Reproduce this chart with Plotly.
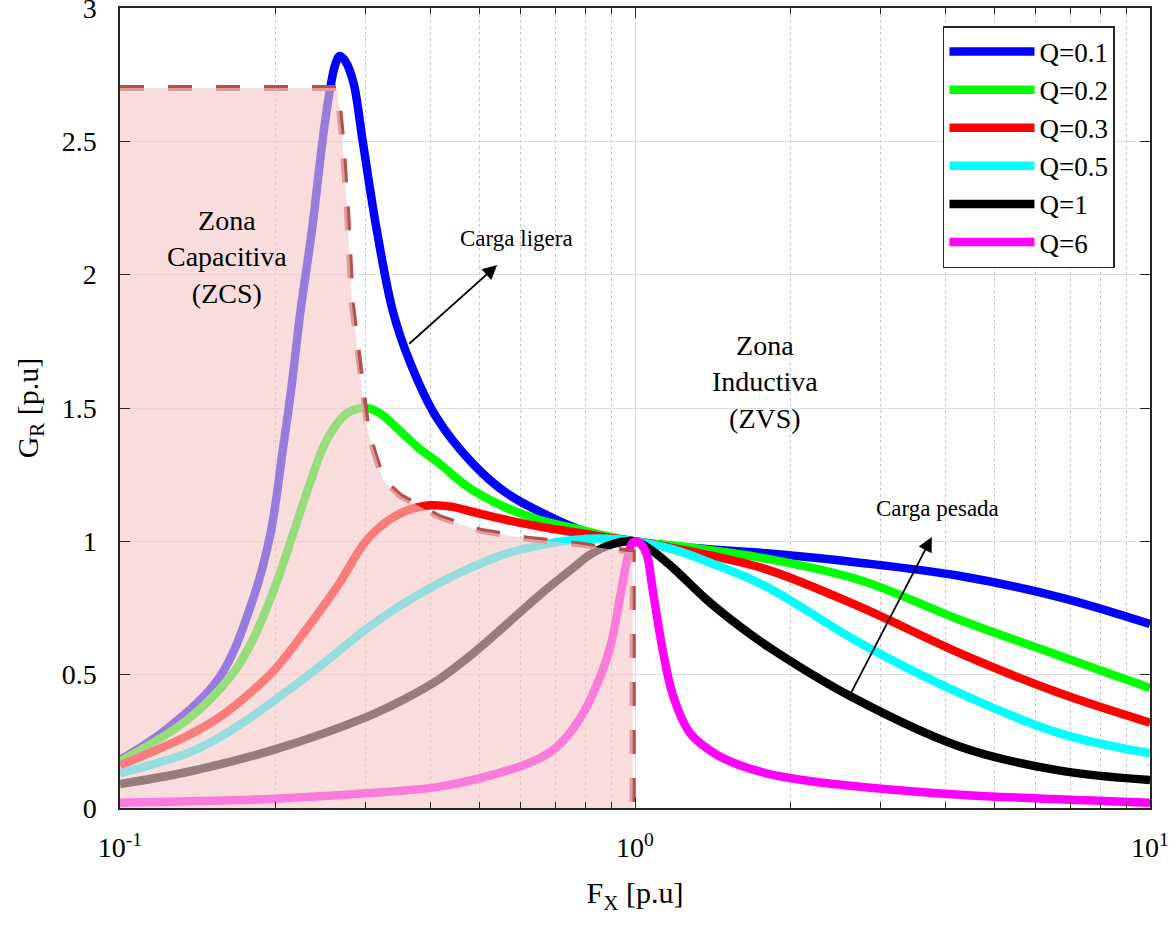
import math
import plotly.graph_objects as go

# ---------------- data ----------------
f_q01 = [0.1, 0.124, 0.156, 0.181, 0.196, 0.207, 0.215, 0.224, 0.236, 0.248, 0.256, 0.262,
         0.267, 0.274, 0.284, 0.296, 0.315, 0.339, 0.366, 0.41, 0.485, 0.564, 0.706, 0.822,
         1.0, 1.3, 1.8, 2.73, 4.28, 6.69, 10.0]
g_q01 = [0.18, 0.30, 0.49, 0.78, 1.03, 1.34, 1.57, 1.86, 2.17, 2.52, 2.70, 2.79,
         2.82, 2.80, 2.72, 2.50, 2.17, 1.86, 1.67, 1.47, 1.29, 1.18, 1.08, 1.03,
         1.0, 0.975, 0.955, 0.92, 0.87, 0.79, 0.69]

f_q02 = [0.1, 0.135, 0.165, 0.181, 0.2, 0.217, 0.234, 0.252, 0.276, 0.3, 0.32, 0.347, 0.38,
         0.418, 0.473, 0.564, 0.654, 0.758, 0.882, 1.0, 1.3, 1.8, 2.73, 4.28, 6.69, 10.0]
g_q02 = [0.175, 0.33, 0.50, 0.63, 0.83, 1.03, 1.22, 1.38, 1.48, 1.50, 1.48, 1.42, 1.35,
         1.29, 1.205, 1.125, 1.08, 1.05, 1.02, 1.0, 0.975, 0.935, 0.855, 0.705, 0.57, 0.45]

f_q03 = [0.1, 0.135, 0.156, 0.181, 0.2, 0.227, 0.264, 0.3, 0.33, 0.36, 0.4, 0.44,
         0.485, 0.564, 0.654, 0.758, 0.882, 1.0, 1.3, 1.8, 2.73, 4.28, 6.69, 10.0]
g_q03 = [0.16, 0.27, 0.34, 0.44, 0.52, 0.655, 0.83, 1.0, 1.075, 1.115, 1.135, 1.13,
         1.11, 1.08, 1.055, 1.035, 1.015, 1.0, 0.96, 0.895, 0.755, 0.58, 0.43, 0.32]

f_q05 = [0.1, 0.135, 0.156, 0.181, 0.2, 0.244, 0.3, 0.354, 0.418, 0.485, 0.564, 0.654,
         0.758, 0.882, 1.0, 1.186, 1.4, 1.8, 2.73, 4.28, 6.69, 10.0]
g_q05 = [0.13, 0.205, 0.265, 0.345, 0.405, 0.53, 0.67, 0.765, 0.845, 0.905, 0.955, 0.985,
         1.005, 1.01, 1.0, 0.97, 0.92, 0.83, 0.62, 0.43, 0.28, 0.205]

f_q1 = [0.1, 0.135, 0.2, 0.3, 0.354, 0.418, 0.485, 0.564, 0.654, 0.758, 0.818, 0.906, 1.0,
        1.08, 1.186, 1.38, 1.6, 1.83, 2.615, 4.28, 6.69, 10.0]
g_q1 = [0.09, 0.135, 0.22, 0.34, 0.405, 0.485, 0.58, 0.69, 0.80, 0.90, 0.95, 0.99, 1.0,
        0.965, 0.90, 0.78, 0.68, 0.60, 0.42, 0.23, 0.14, 0.105]

f_q6 = [0.1, 0.2, 0.3, 0.418, 0.564, 0.65, 0.706, 0.76, 0.818, 0.894, 0.935, 0.965, 0.985,
        1.0, 1.02, 1.054, 1.08, 1.13, 1.186, 1.28, 1.44, 1.6, 1.8, 2.2, 2.73, 4.28, 10.0]
g_q6 = [0.02, 0.035, 0.055, 0.08, 0.14, 0.185, 0.23, 0.30, 0.405, 0.60, 0.79, 0.93, 0.99,
        1.0, 0.995, 0.95, 0.83, 0.60, 0.42, 0.28, 0.20, 0.16, 0.13, 0.10, 0.08, 0.05, 0.02]

# boundary of the capacitive zone (dashed line)
f_bound = [0.1, 0.264, 0.270, 0.276, 0.282, 0.296, 0.303, 0.313, 0.324, 0.350, 0.418,
           0.500, 0.617, 0.771, 0.964, 0.99, 0.99]
g_bound = [2.70, 2.70, 2.51, 2.24, 1.89, 1.54, 1.41, 1.32, 1.23, 1.17, 1.09,
           1.04, 1.01, 0.99, 0.96, 0.96, 0.0]

series_names = ["Q=0.1", "Q=0.2", "Q=0.3", "Q=0.5", "Q=1", "Q=6"]
series_f = [f_q01, f_q02, f_q03, f_q05, f_q1, f_q6]
series_g = [g_q01, g_q02, g_q03, g_q05, g_q1, g_q6]
series_colors = ["#0000FF", "#00FF00", "#FF0000", "#00FFFF", "#000000", "#FF00FF"]

x_tickvals = [0.1, 1, 10]
x_ticktext = ["10<sup>-1</sup>", "10<sup>0</sup>", "10<sup>1</sup>"]
x_minor = [0.2, 0.3, 0.4, 0.5, 0.6, 0.7, 0.8, 0.9, 2, 3, 4, 5, 6, 7, 8, 9]
y_tickvals = [0, 0.5, 1, 1.5, 2, 2.5, 3]
y_ticktext = ["0", "0.5", "1", "1.5", "2", "2.5", "3"]

FONT = "Liberation Serif, Times New Roman, serif"
AX = "#262626"

fig = go.Figure()
for name, f, g, c in zip(series_names, series_f, series_g, series_colors):
    fig.add_trace(go.Scatter(x=f, y=g, mode="lines", name=name,
                             line=dict(color=c, width=8.5, shape="spline", smoothing=1.0)))

fig.add_trace(go.Scatter(x=f_bound, y=g_bound, mode="lines", showlegend=False,
                         hoverinfo="skip",
                         line=dict(color="#B5514D", width=6, dash="24px,24px")))

fig.add_trace(go.Scatter(x=f_bound + [0.1], y=g_bound + [0.0], mode="lines",
                         fill="toself", fillcolor="rgba(245,200,200,0.62)",
                         line=dict(width=0, color="rgba(0,0,0,0)"),
                         showlegend=False, hoverinfo="skip"))

L = math.log10
annotations = [
    dict(x=L(0.1613), y=2.066, xref="x", yref="y", showarrow=False,
         text="Zona<br>Capacitiva<br>(ZCS)", font=dict(family=FONT, size=28, color="black")),
    dict(x=L(1.788), y=1.597, xref="x", yref="y", showarrow=False,
         text="Zona<br>Inductiva<br>(ZVS)", font=dict(family=FONT, size=28, color="black")),
    dict(x=L(0.590), y=2.137, xref="x", yref="y", showarrow=False,
         text="Carga ligera", font=dict(family=FONT, size=23, color="black")),
    dict(x=L(3.875), y=1.125, xref="x", yref="y", showarrow=False,
         text="Carga pesada", font=dict(family=FONT, size=23, color="black")),
    dict(x=L(0.540), y=2.036, ax=L(0.362), ay=1.736, xref="x", yref="y",
         axref="x", ayref="y", text="", showarrow=True, arrowhead=2, arrowsize=1.6,
         arrowwidth=1.8, arrowcolor="black"),
    dict(x=L(3.77), y=1.016, ax=L(2.615), ay=0.424, xref="x", yref="y",
         axref="x", ayref="y", text="", showarrow=True, arrowhead=2, arrowsize=1.6,
         arrowwidth=1.8, arrowcolor="black"),
]

fig.update_layout(
    width=1176, height=928,
    margin=dict(l=120, r=26, t=8, b=120),
    paper_bgcolor="white", plot_bgcolor="white",
    font=dict(family=FONT, size=27, color="black"),
    annotations=annotations,
    legend=dict(x=0.799, y=0.9775, xanchor="left", yanchor="top",
                bgcolor="white", bordercolor=AX, borderwidth=1.5,
                font=dict(family=FONT, size=27, color="black"),
                itemwidth=85, tracegroupgap=0),
    xaxis=dict(type="log", range=[-1, 1], tickmode="array", tickvals=x_tickvals,
               ticktext=x_ticktext, ticks="inside", ticklen=10, tickcolor=AX,
               showline=True, linecolor=AX, linewidth=1.5, mirror="ticks",
               showgrid=True, gridcolor="#DEDEDE", gridwidth=1, zeroline=False,
               ticklabelstandoff=14, ticklabeloverflow="allow", automargin=False,
               minor=dict(tickvals=x_minor, ticks="inside", ticklen=6, tickcolor=AX,
                          showgrid=True, gridcolor="#C8C8C8", griddash="dot", gridwidth=1),
               title=dict(text="F<sub>X</sub> [p.u]", font=dict(family=FONT, size=30),
                          standoff=20),
               tickfont=dict(family=FONT, size=28, color="black")),
    yaxis=dict(range=[0, 3], tickmode="array", tickvals=y_tickvals, ticktext=y_ticktext,
               ticks="inside", ticklen=10, tickcolor=AX,
               showline=True, linecolor=AX, linewidth=1.5, mirror="ticks",
               showgrid=True, gridcolor="#DEDEDE", gridwidth=1, zeroline=False,
               ticklabelstandoff=16, ticklabeloverflow="allow", automargin=False,
               title=dict(text="G<sub>R</sub> [p.u]", font=dict(family=FONT, size=30),
                          standoff=14),
               tickfont=dict(family=FONT, size=28, color="black")),
)

fig.write_html("out.html")
